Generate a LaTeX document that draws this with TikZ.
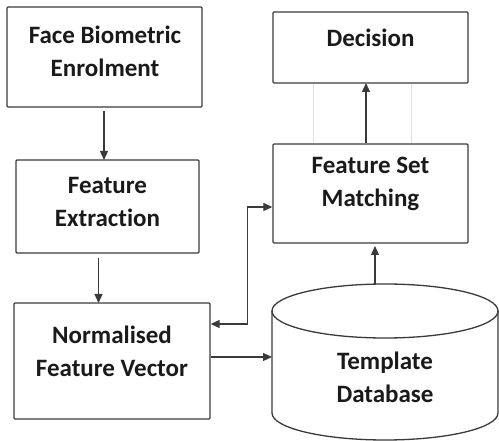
\documentclass[tikz,border=0pt]{standalone}
\usepackage{fontspec}
\setmainfont{Carlito}[Ligatures=NoCommon]
\usetikzlibrary{arrows.meta,calc}
\definecolor{ln}{HTML}{3A3A3A}
\definecolor{tx}{HTML}{1A1A1A}
\tikzset{
  box/.style={draw=ln, line width=1.4pt, rounded corners=1pt, inner sep=0pt},
  lbl/.style={align=center, text=tx, font=\fontsize{25}{33}\selectfont\bfseries, inner sep=0pt},
  arr/.style={draw=ln, line width=1.3pt, -{Triangle[length=9pt,width=8pt]}},
  darr/.style={draw=ln, line width=1.3pt, {Triangle[length=9pt,width=8pt]}-{Triangle[length=9pt,width=8pt]}},
  faint/.style={draw=black!12, line width=0.6pt}
}
\begin{document}
\begin{tikzpicture}[x=1pt,y=-1pt]
\useasboundingbox (0,0) rectangle (499,441);
% boxes
\node[box, minimum width=195pt, minimum height=100pt] (fbe) at (104.5,57) {};
\node[lbl] (fbeT) at (105,51) {Face Biometric\\Enrolment};
\node[box, minimum width=183pt, minimum height=93pt] (fe) at (107.5,206.5) {};
\node[lbl] (feT) at (107.5,202) {Feature\\Extraction};
\node[box, minimum width=196pt, minimum height=116pt] (nfv) at (112,361) {};
\node[lbl] (nfvT) at (112,351) {Normalised\\Feature Vector};
\node[box, minimum width=195pt, minimum height=71pt] (dec) at (370.5,47.5) {};
\node[lbl] (decT) at (370.5,38) {Decision};
\node[box, minimum width=195pt, minimum height=99pt] (fsm) at (370.5,193.5) {};
\node[lbl] (fsmT) at (370.5,184) {Feature Set\\Matching};
% faint guide lines between decision and matching
\draw[faint] (dec.south -| 313,0) -- (fsm.north -| 313,0);
\draw[faint] (dec.south -| 411,0) -- (fsm.north -| 411,0);
% cylinder
\draw[ln, line width=1.3pt, fill=white] (272,311) -- (272,413) arc[start angle=180, end angle=0, x radius=113, y radius=27] -- (498,311);
\draw[ln, line width=1.3pt] (385,311) ellipse[x radius=113, y radius=27];
\node[lbl] (dbT) at (385,377) {Template\\Database};
\coordinate (dbL) at (272,357);
\coordinate (dbTop) at (375,284);
% connectors
\draw[arr] ([xshift=-0.5pt,yshift=-3pt]fbe.south) -- (104,160);
\draw[arr] ([xshift=-9pt,yshift=-4pt]fe.south) -- (98.5,303);
\draw[arr] ([xshift=-4.5pt]fsm.north) -- (366,83);
\draw[arr] (dbTop) -- (375,246);
\draw[darr] ([yshift=-13.5pt]fsm.west) -- ++(-25,0) |- ([yshift=37pt]nfv.east);
\draw[arr] ([yshift=4pt]nfv.east) -- (dbL);
\end{tikzpicture}
\end{document}
